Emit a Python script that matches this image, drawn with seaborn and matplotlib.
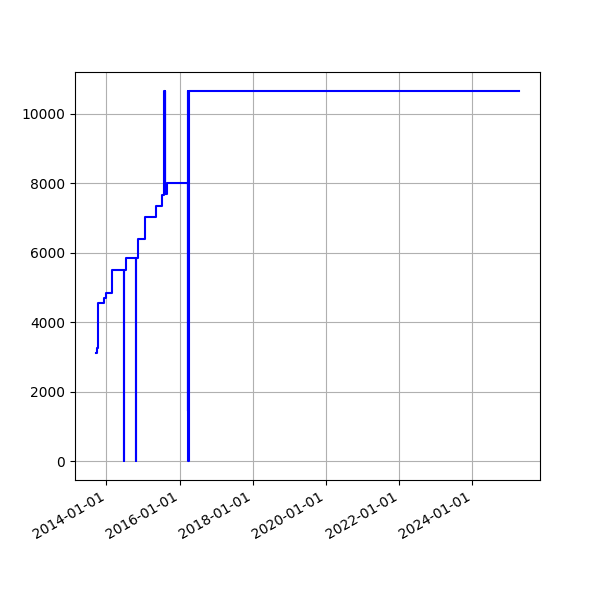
import matplotlib
matplotlib.use("Agg")
import matplotlib.pyplot as plt
import matplotlib.dates as mdates
import seaborn as sns
import pandas as pd

dates = [
    "2013-09-20", "2013-09-25", "2013-10-05", "2013-12-03", "2013-12-30",
    "2014-03-02", "2014-06-28", "2014-06-29", "2014-07-12", "2014-10-25",
    "2014-10-26", "2014-11-12", "2015-01-20", "2015-05-10", "2015-07-14",
    "2015-08-03", "2015-08-06", "2015-08-09", "2015-08-12", "2015-08-26",
    "2016-03-20", "2016-03-23", "2016-03-26", "2016-03-29", "2016-03-30",
    "2025-04-08",
]
values = [
    3120, 3250, 4560, 4690, 4840,
    5490, 0, 5490, 5840, 0,
    5840, 6380, 7040, 7356, 7672,
    10660, 7700, 10660, 7700, 8000,
    1450, 10660, 1450, 0, 10660,
    10660,
]

df = pd.DataFrame({"date": pd.to_datetime(dates), "value": values})

fig, ax = plt.subplots(figsize=(6, 6), dpi=100)
sns.lineplot(data=df, x="date", y="value", ax=ax, color="blue",
             drawstyle="steps-post", estimator=None, sort=False, linewidth=1.5)
ax.set_xlabel("")
ax.set_ylabel("")
ax.grid(True)
ax.xaxis.set_major_formatter(mdates.DateFormatter("%Y-%m-%d"))
fig.autofmt_xdate()
fig.savefig("out.png", dpi=100)
